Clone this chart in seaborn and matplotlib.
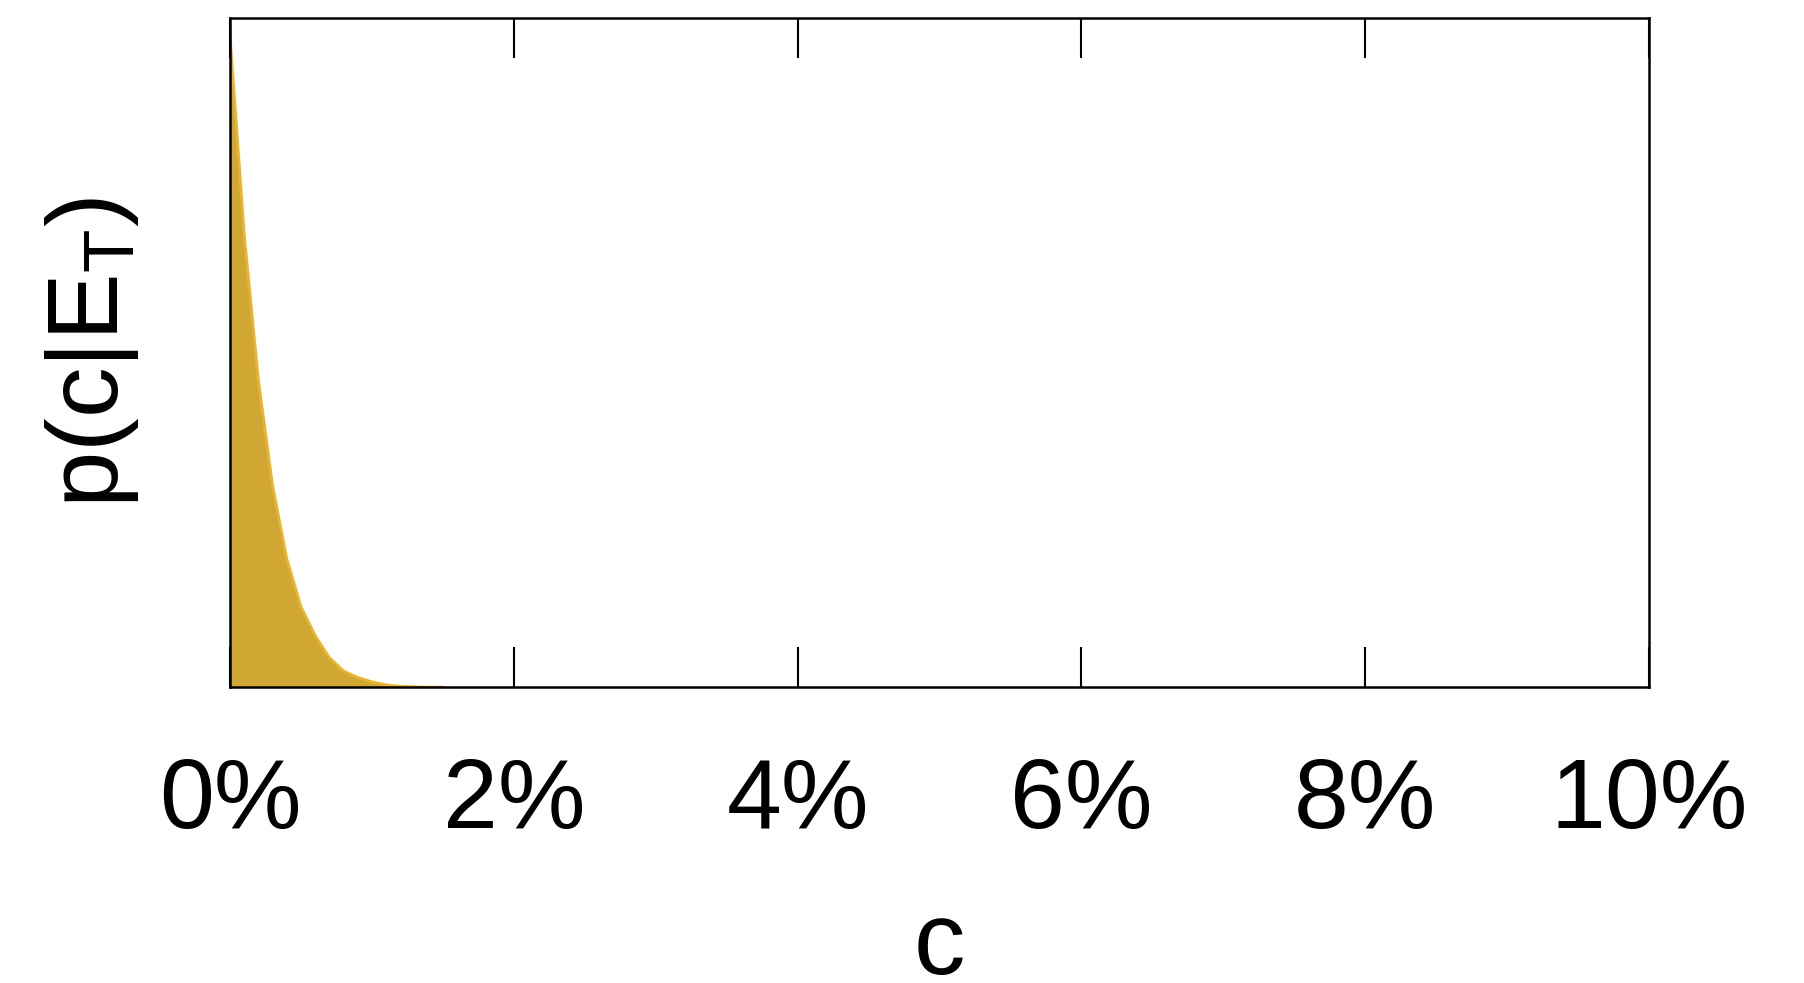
import matplotlib
matplotlib.use("Agg")
import matplotlib.pyplot as plt
import seaborn as sns
import pandas as pd

# Posterior density of c (in percent), sampled every 0.1 %
c_percent = [0.0, 0.1, 0.2, 0.3, 0.4, 0.5, 0.6, 0.7, 0.8, 0.9, 1.0,
             1.1, 1.2, 1.3, 1.4, 1.5]
density = [0.974, 0.677, 0.459, 0.301, 0.192, 0.120, 0.077, 0.044, 0.024,
           0.0145, 0.008, 0.0033, 0.0013, 0.0005, 0.0, 0.0]

x_ticks = [0, 2, 4, 6, 8, 10]
x_tick_labels = ["0%", "2%", "4%", "6%", "8%", "10%"]

sns.set_theme(style="white")
plt.rcParams["font.family"] = ["Liberation Sans", "DejaVu Sans"]
plt.rcParams["mathtext.fontset"] = "custom"
plt.rcParams["mathtext.rm"] = "Liberation Sans"

fig = plt.figure(figsize=(18.04, 9.83), dpi=100)
ax = fig.add_axes([0.1275, 0.301, 0.914 - 0.1275, 0.9817 - 0.301])

df = pd.DataFrame({"c": c_percent, "p": density})
fill_color = "#D1A733"
edge_color = "#E8B433"
ax.fill_between(df["c"], 0, df["p"], color=fill_color, linewidth=0, zorder=1)
sns.lineplot(data=df, x="c", y="p", ax=ax, color=edge_color, linewidth=2.0,
             zorder=2)

ax.set_xlim(0, 10)
ax.set_ylim(0, 1.0)
ax.set_xticks(x_ticks)
ax.set_xticklabels(x_tick_labels)
ax.set_yticks([])

ax.tick_params(axis="x", which="both", direction="in", length=29, width=1.5,
               color="black", top=True, bottom=True, labelsize=71, pad=50,
               labelcolor="black")

for s in ax.spines.values():
    s.set_visible(True)
    s.set_color("black")
    s.set_linewidth(1.8)

ax.set_xlabel("c", fontsize=74, labelpad=37, color="black")
ax.set_ylabel(r"p(c|E$_\mathregular{T}$)", fontsize=73, labelpad=64,
              color="black")

fig.savefig("out.png", dpi=100, facecolor="white")
